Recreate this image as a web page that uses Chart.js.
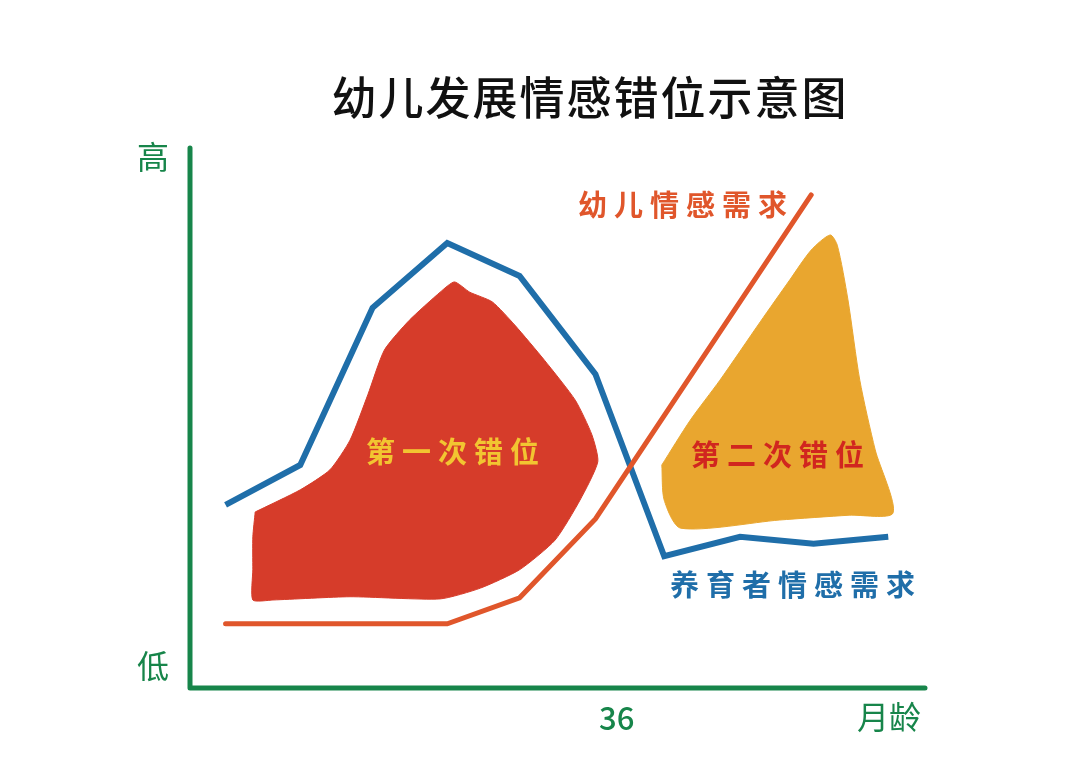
<!DOCTYPE html>
<html lang="zh">
<head>
  <meta charset="UTF-8">
  <title>幼儿发展情感错位示意图</title>
  <script src="https://cdn.jsdelivr.net/npm/chart.js"></script>
  <style>
    html, body { margin: 0; padding: 0; background: #fff; }
    #wrap { width: 1080px; height: 764px; }
  </style>
</head>
<body>
<div id="wrap"><canvas id="chart"></canvas></div>
<script>
  // 数据（x: 月龄, y: 情感需求 0-100）
  const caregiverX = [3, 9.3, 15.4, 21.7, 27.8, 34.2, 40, 46.4, 52.6, 58.9];
  const caregiverY = [33.9, 41.3, 70.4, 82.4, 76.3, 58.1, 24.4, 28.0, 26.7, 28.0];

  const childX = [3, 21.7, 27.8, 34.2, 52.4];
  const childY = [11.9, 11.9, 16.7, 31.3, 91.3];

  // 第一次错位 区域轮廓
  const gap1X = [5.5, 9.3, 11.8, 13.5, 15.0, 16.4, 18.5, 21.1, 22.3, 23.6, 25.5, 27.4, 29.9, 32.5, 33.9, 34.4, 32.9, 30.8, 27.8, 24.5, 21.1, 13.5, 7.0, 5.3, 5.3, 5.3, 5.5];
  const gap1Y = [32.6, 36.7, 40.4, 45.9, 54.3, 62.6, 68.1, 73.3, 75.2, 73.3, 71.5, 67.2, 60.7, 53.3, 46.9, 41.9, 34.8, 27.4, 21.9, 18.5, 16.5, 16.9, 16.3, 16.3, 22.0, 28.0, 32.6];

  // 第二次错位 区域轮廓
  const gap2X = [39.8, 42.2, 44.7, 48.1, 50.6, 52.4, 54.0, 54.6, 55.5, 56.5, 57.8, 59.3, 55.6, 49.7, 41.4, 40.0, 39.8];
  const gap2Y = [41.3, 49.6, 57.0, 67.8, 75.6, 81.1, 83.9, 82.0, 71.9, 57.0, 44.1, 32.4, 32.0, 31.1, 29.6, 34.8, 41.3];

  const xTicks = ['36'];
  const xTickValues = [36];

  const pts = (xs, ys) => xs.map((x, i) => ({ x: x, y: ys[i] }));

  const GREEN = '#17854a';
  const BLUE = '#1f6ea9';
  const ORANGE = '#e0562b';
  const RED = '#d63c2a';
  const YELLOW = '#e9a62f';

  const CJK = '"Noto Sans CJK SC", "Noto Sans", sans-serif';

  // 坐标轴、标题与文字标注
  const decorPlugin = {
    id: 'decor',
    beforeDatasetsDraw(chart) {
      const { ctx, chartArea: a } = chart;
      ctx.save();
      ctx.strokeStyle = GREEN;
      ctx.lineWidth = 5;
      ctx.lineCap = 'round';
      ctx.lineJoin = 'round';
      ctx.beginPath();
      ctx.moveTo(a.left, a.top);
      ctx.lineTo(a.left, a.bottom);
      ctx.lineTo(a.right, a.bottom);
      ctx.stroke();
      ctx.restore();
    },
    afterDatasetsDraw(chart) {
      const { ctx, scales } = chart;
      const xs = scales.x;
      const text = (s, x, y, font, color, spacing) => {
        ctx.font = font;
        ctx.fillStyle = color;
        ctx.letterSpacing = (spacing || 0) + 'px';
        ctx.fillText(s, x, y);
      };
      ctx.save();
      ctx.textAlign = 'center';
      ctx.textBaseline = 'middle';

      text('幼儿发展情感错位示意图', 590, 98, '500 45px ' + CJK, '#111', 2);

      text('高', 153, 157, '32px ' + CJK, GREEN);
      text('低', 153, 666, '32px ' + CJK, GREEN);
      xTicks.forEach((t, i) => {
        text(t, xs.getPixelForValue(xTickValues[i]), 718, '500 31px ' + CJK, GREEN);
      });
      text('月龄', 889, 717, '32px ' + CJK, GREEN);

      text('幼儿情感需求', 686, 205, 'bold 29px ' + CJK, ORANGE, 7);
      text('养育者情感需求', 796, 585, 'bold 29px ' + CJK, BLUE, 7);
      text('第一次错位', 456, 452, 'bold 29px ' + CJK, '#f2c531', 7);
      text('第二次错位', 781, 455, 'bold 29px ' + CJK, '#d1261f', 7);
      ctx.restore();
    }
  };

  new Chart(document.getElementById('chart'), {
    type: 'scatter',
    data: {
      datasets: [
        {
          label: '第一次错位',
          data: pts(gap1X, gap1Y),
          showLine: true,
          fill: 'shape',
          backgroundColor: RED,
          borderColor: RED,
          borderWidth: 1,
          pointRadius: 0,
          tension: 0.2
        },
        {
          label: '第二次错位',
          data: pts(gap2X, gap2Y),
          showLine: true,
          fill: 'shape',
          backgroundColor: YELLOW,
          borderColor: YELLOW,
          borderWidth: 1,
          pointRadius: 0,
          tension: 0.25
        },
        {
          label: '幼儿情感需求',
          data: pts(childX, childY),
          showLine: true,
          borderColor: ORANGE,
          borderWidth: 5,
          pointRadius: 0,
          tension: 0,
          borderCapStyle: 'round'
        },
        {
          label: '养育者情感需求',
          data: pts(caregiverX, caregiverY),
          showLine: true,
          borderColor: BLUE,
          borderWidth: 6,
          pointRadius: 0,
          tension: 0,
          borderJoinStyle: 'miter'
        }
      ]
    },
    options: {
      responsive: true,
      maintainAspectRatio: false,
      animation: false,
      layout: { padding: { left: 190, right: 155, top: 148, bottom: 76 } },
      plugins: {
        legend: { display: false },
        tooltip: { enabled: false }
      },
      scales: {
        x: { type: 'linear', min: 0, max: 62, display: false },
        y: { type: 'linear', min: 0, max: 100, display: false }
      }
    },
    plugins: [decorPlugin]
  });
</script>
</body>
</html>
